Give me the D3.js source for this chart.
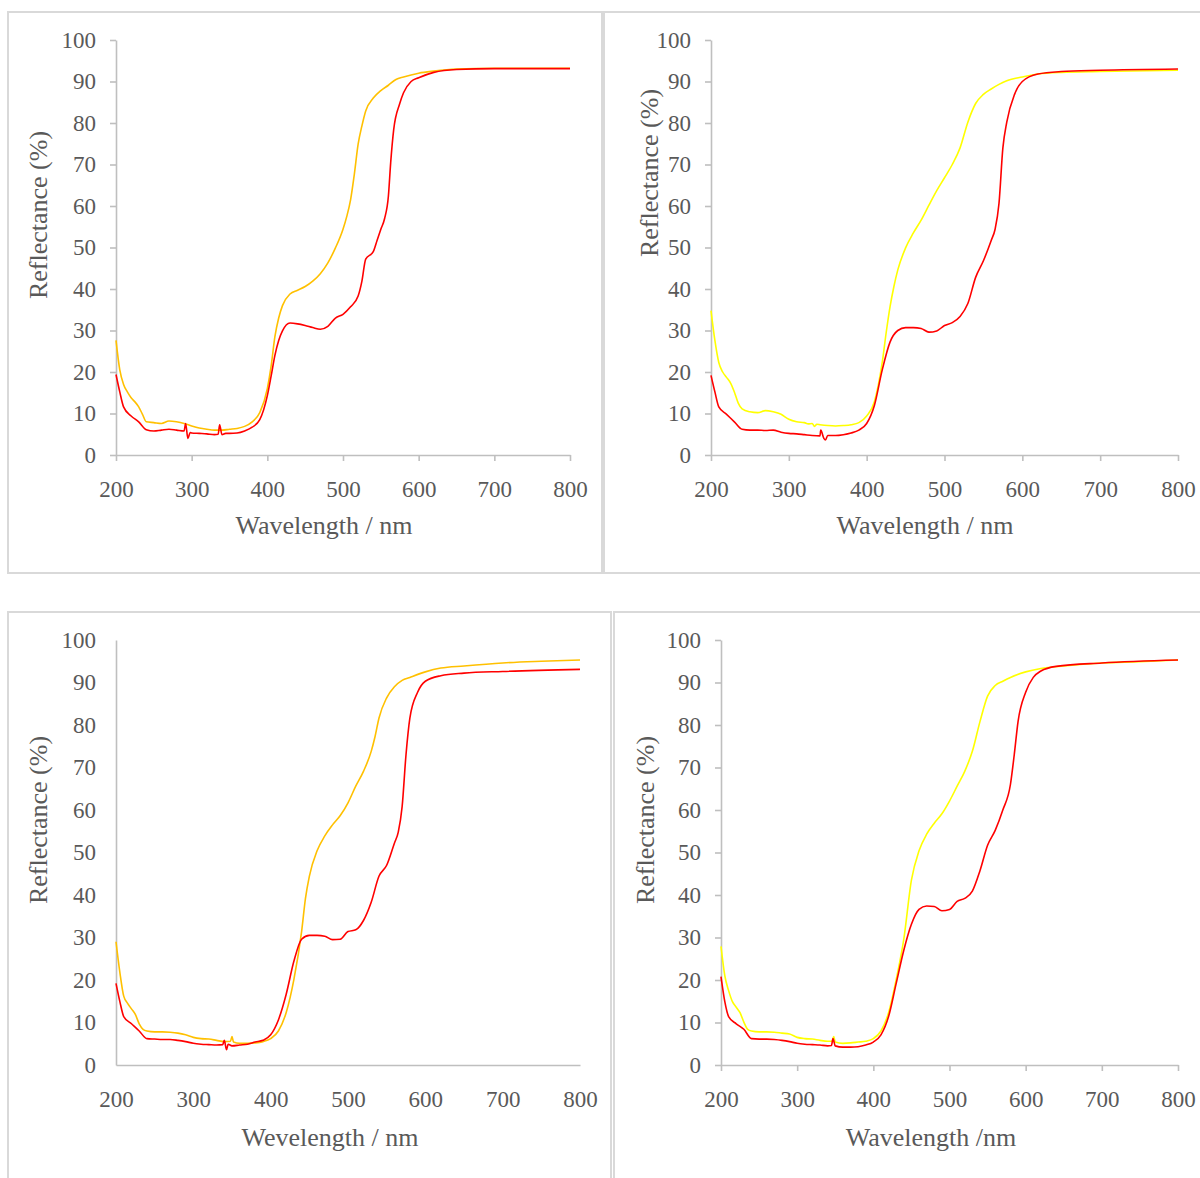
<!DOCTYPE html>
<html>
<head>
<meta charset="utf-8">
<script src="https://cdn.jsdelivr.net/npm/d3@7"></script>
<style>
    body { margin: 0; background: #fff; }
    svg { display: block; }
    svg text { font-family: "Liberation Serif", "DejaVu Serif", "Times New Roman", serif; }
</style>
</head>
<body>
<div id="chart"></div>
<script>

// tick values shared by all four panels
const wavelengthTicks  = [200, 300, 400, 500, 600, 700, 800];
const reflectanceTicks = [0, 10, 20, 30, 40, 50, 60, 70, 80, 90, 100];

const yTitle  = "Reflectance (%)";
const xTitles = ["Wavelength / nm", "Wavelength / nm", "Wevelength / nm", "Wavelength /nm"];

// [wavelength nm, reflectance %]
const topLeftLight = [
    [200,27.6],[205,20.5],[210,17],[215,15.2],[220,13.8],[225,12.8],[230,11.6],[235,9.8],[240,8.0],
    [250,7.8],[260,7.6],[270,8.2],[280,8.0],[290,7.6],[300,7.0],[310,6.5],[320,6.2],[330,6.0],
    [340,6.0],[350,6.2],[360,6.4],[370,6.9],[380,8.0],[390,10.2],[400,16],[405,21.4],[410,28.5],
    [415,33],[420,36],[430,38.8],[440,39.7],[450,40.6],[460,41.9],[470,43.7],[480,46.3],[490,49.9],
    [500,54.4],[505,57.5],[510,61.5],[515,67.7],[520,74.9],[525,79.3],[530,82.9],[540,86],
    [550,87.8],[560,89.1],[570,90.5],[580,91.1],[600,92.0],[620,92.5],[650,93],[700,93.2],[800,93.2]
];
const topLeftRed = [
    [200,19.4],[205,15.2],[210,11.6],[220,9.4],[230,8.0],[240,6.1],[250,5.8],[260,6.0],[270,6.2],
    [280,6.0],[290,5.8],[292,7.6],[295,4.0],[298,5.4],[300,5.3],[310,5.2],[320,5.1],[330,4.9],
    [335,5.0],[337,7.3],[340,4.9],[345,5.2],[350,5.2],[360,5.3],[370,5.8],[380,6.7],[390,8.5],
    [400,14.3],[405,19],[410,24],[415,27.6],[420,29.9],[430,31.8],[440,31.6],[450,31.2],[460,30.7],
    [470,30.3],[480,31.0],[490,33],[500,33.9],[510,35.7],[520,38.3],[525,41.9],[530,47.2],[540,49],
    [545,51.7],[550,54.4],[555,57],[560,62.4],[563,70.4],[567,78.4],[575,84.7],[580,87.3],[590,90],
    [600,90.9],[620,92.2],[650,92.9],[700,93.1],[800,93.1]
];

const topRightLight = [
    [200,34.8],[205,27.6],[210,22.3],[215,20],[220,18.7],[225,17.4],[230,15.2],[235,12.5],[240,11.1],
    [250,10.4],[260,10.2],[270,10.7],[280,10.4],[290,9.8],[300,8.6],[310,8.0],[320,7.8],[325,7.5],
    [330,7.6],[333,6.9],[336,7.4],[340,7.3],[350,7.1],[360,7.0],[370,7.1],[380,7.3],[390,7.8],
    [400,9.4],[410,12.9],[415,16.9],[420,22.3],[425,29.4],[430,35.7],[435,40.6],[440,44.6],[450,49.9],
    [460,53.5],[470,56.6],[480,60.2],[490,63.7],[500,66.8],[510,70],[520,74],[530,80.2],[540,84.7],
    [550,86.9],[560,88.2],[570,89.3],[580,90.2],[600,91.1],[620,91.8],[650,92.2],[700,92.4],[800,92.7]
];
const topRightRed = [
    [200,19.2],[205,15.2],[210,11.6],[220,9.8],[230,8.0],[240,6.2],[250,6.0],[260,6.0],[270,5.9],
    [280,6.0],[290,5.5],[300,5.2],[310,5.1],[320,4.9],[330,4.7],[340,4.6],[341,6.0],[345,4.0],
    [347,3.6],[350,4.7],[360,4.7],[370,4.9],[380,5.3],[390,6.0],[400,7.6],[410,12],[420,20.5],
    [430,27.2],[440,30],[450,30.7],[460,30.7],[470,30.5],[480,29.6],[490,29.9],[500,31.2],[510,31.9],
    [520,33.4],[530,36.5],[540,42.8],[550,46.8],[560,51.7],[565,54.4],[570,60.6],[575,74],[580,80.2],
    [590,86.9],[600,90],[620,91.8],[650,92.4],[700,92.7],[800,93]
];

const bottomLeftLight = [
    [200,29],[205,21.8],[210,16.2],[215,14.5],[220,13.2],[225,11.9],[230,9.7],[235,8.4],[240,8.0],
    [250,7.8],[260,7.8],[270,7.7],[280,7.5],[290,7.1],[300,6.5],[310,6.2],[320,6.1],[330,5.8],
    [340,5.5],[348,5.6],[350,6.7],[352,5.4],[360,5.1],[370,5.1],[380,5.2],[390,5.5],[400,6.2],
    [410,8],[420,12.3],[430,20.1],[440,31.4],[445,39.2],[450,44.4],[460,50.4],[470,53.9],[480,56.5],
    [490,58.7],[500,61.7],[510,65.6],[520,69.1],[530,73.8],[535,77.3],[540,81.6],[550,86.4],[560,89],
    [570,90.5],[580,91.2],[600,92.5],[620,93.4],[650,93.9],[700,94.6],[750,95.0],[800,95.3]
];
const bottomLeftRed = [
    [200,19.2],[205,14.9],[210,11.4],[220,9.7],[230,8.0],[240,6.2],[250,6.1],[260,6.0],[270,6.0],
    [280,5.8],[290,5.5],[300,5.1],[310,4.9],[320,4.8],[330,4.7],[338,4.8],[340,5.8],[343,3.6],
    [345,4.9],[350,4.5],[360,4.7],[370,4.9],[380,5.4],[390,5.8],[400,7.1],[410,10.6],[420,16.6],
    [430,24.4],[440,29.6],[450,30.5],[460,30.5],[470,30.3],[480,29.5],[490,29.6],[500,31.4],[510,31.8],
    [520,34],[530,38.3],[540,44.4],[550,47],[560,52.2],[565,54.8],[570,60.8],[575,73],[580,81.6],
    [590,87.7],[600,90.3],[620,91.6],[650,92.2],[700,92.6],[800,93.1]
];

const bottomRightLight = [
    [200,27.9],[205,21],[210,17.5],[215,14.9],[220,13.6],[225,12.3],[230,10.1],[235,8.4],[240,8.0],
    [250,7.8],[260,7.8],[270,7.7],[280,7.5],[290,7.3],[300,6.5],[310,6.2],[320,6.1],[330,5.8],
    [340,5.6],[346,5.6],[348,6.7],[350,5.4],[360,5.1],[370,5.2],[380,5.4],[390,5.6],[400,6.2],
    [410,8],[420,12.3],[430,20.1],[440,29.6],[450,43.5],[460,50.4],[470,54.3],[480,56.9],[490,59.1],
    [500,62.1],[510,65.6],[520,69.1],[530,73.8],[540,80.8],[550,86.8],[560,89.3],[570,90.3],[580,91.2],
    [600,92.5],[620,93.3],[650,93.9],[700,94.6],[750,94.9],[800,95.3]
];
const bottomRightRed = [
    [200,20.8],[205,14.9],[210,11.4],[220,9.7],[230,8.4],[240,6.2],[250,6.1],[260,6.1],[270,6.0],
    [280,5.8],[290,5.5],[300,5.1],[310,4.9],[320,4.8],[330,4.7],[340,4.5],[345,4.6],[347,6.2],
    [350,4.5],[360,4.2],[370,4.2],[380,4.3],[390,4.7],[400,5.4],[410,7.1],[420,11.4],[430,19.2],
    [440,27],[450,33.1],[460,36.6],[470,37.4],[480,37.3],[490,36.3],[500,36.6],[510,38.5],[520,39.2],
    [530,40.9],[540,45.7],[550,51.7],[560,55.2],[570,60],[580,66],[585,73],[590,80.8],[600,87.7],
    [610,91.2],[620,92.7],[640,93.8],[700,94.6],[800,95.3]
];


class SpectrumPanel {
    constructor(_svg, _config) {
        this.svg = _svg;
        this.config = _config;

        this.initVis();
    }

    initVis() {
        let vis = this;
        let c = vis.config;

        // light grey frame round the panel
        vis.svg.append("rect")
            .attr("x", c.frame[0])
            .attr("y", c.frame[1])
            .attr("width", c.frame[2] - c.frame[0])
            .attr("height", c.frame[3] - c.frame[1])
            .style("fill", "none")
            .style("stroke", "#d9d9d9")
            .style("stroke-width", 2);

        vis.x = d3.scaleLinear().domain([200, 800]).range([c.left, c.right]);
        vis.y = d3.scaleLinear().domain([0, 100]).range([c.bottom, c.top]);

        let tick = c.ticks ? 6 : 0;

        vis.xAxisGroup = vis.svg.append("g")
            .attr("class", "axis")
            .attr("transform", `translate(0, ${c.bottom})`)
            .call(d3.axisBottom(vis.x).tickValues(wavelengthTicks)
                .tickSize(tick).tickSizeOuter(0).tickPadding(26 - tick));

        vis.yAxisGroup = vis.svg.append("g")
            .attr("class", "axis")
            .attr("transform", `translate(${c.left}, 0)`)
            .call(d3.axisLeft(vis.y).tickValues(reflectanceTicks)
                .tickSize(tick).tickSizeOuter(0).tickPadding(20 - tick));

        // d3 puts font-family="sans-serif" on axis groups, drop it
        vis.svg.selectAll(".axis").attr("font-family", null).attr("font-size", null);

        vis.svg.selectAll(".axis path, .axis line")
            .style("stroke", "#bfbfbf")
            .style("stroke-width", 1.6);

        vis.svg.selectAll(".axis text")
            .style("fill", "#595959")
            .style("font-size", "23px");

        vis.svg.append("text")
            .attr("x", c.xTitle[0])
            .attr("y", c.xTitle[1])
            .attr("dy", "0.35em")
            .attr("text-anchor", "middle")
            .style("fill", "#595959")
            .style("font-size", "26px")
            .text(c.xLabel);

        vis.svg.append("text")
            .attr("transform", `translate(${c.yTitle[0]}, ${c.yTitle[1]}) rotate(-90)`)
            .attr("dy", "0.35em")
            .attr("text-anchor", "middle")
            .style("fill", "#595959")
            .style("font-size", "26px")
            .text(yTitle);

        vis.line = d3.line()
            .x(d => vis.x(d[0]))
            .y(d => vis.y(d[1]))
            .curve(d3.curveMonotoneX);

        vis.updateVis();
    }

    updateVis() {
        let vis = this;

        // light curve underneath, red one on top
        vis.config.series.forEach(s => {
            vis.svg.append("path")
                .datum(s.values)
                .attr("d", vis.line)
                .style("fill", "none")
                .style("stroke", s.color)
                .style("stroke-width", 1.6)
                .style("stroke-linejoin", "round");
        });
    }
}


const svg = d3.select("#chart").append("svg")
    .attr("width", 1200)
    .attr("height", 1178);

const panelConfigs = [
    { frame: [8, 12, 602, 573], left: 116, right: 570, top: 40, bottom: 455, ticks: true,
      xTitle: [324, 525], yTitle: [38, 215], xLabel: xTitles[0],
      series: [{ values: topLeftLight, color: "#ffc000" }, { values: topLeftRed, color: "#ff0000" }] },
    { frame: [604, 12, 1203, 573], left: 711, right: 1178, top: 40, bottom: 455, ticks: true,
      xTitle: [925, 525], yTitle: [649, 173], xLabel: xTitles[1],
      series: [{ values: topRightLight, color: "#ffff00" }, { values: topRightRed, color: "#ff0000" }] },
    { frame: [8, 612, 611, 1182], left: 116, right: 580, top: 640, bottom: 1065, ticks: false,
      xTitle: [330, 1137], yTitle: [38, 820], xLabel: xTitles[2],
      series: [{ values: bottomLeftLight, color: "#ffc000" }, { values: bottomLeftRed, color: "#ff0000" }] },
    { frame: [614, 612, 1203, 1182], left: 721, right: 1178, top: 640, bottom: 1065, ticks: true,
      xTitle: [931, 1137], yTitle: [645, 820], xLabel: xTitles[3],
      series: [{ values: bottomRightLight, color: "#ffff00" }, { values: bottomRightRed, color: "#ff0000" }] }
];

panelConfigs.forEach(cfg => new SpectrumPanel(svg.append("g"), cfg));

</script>
</body>
</html>
